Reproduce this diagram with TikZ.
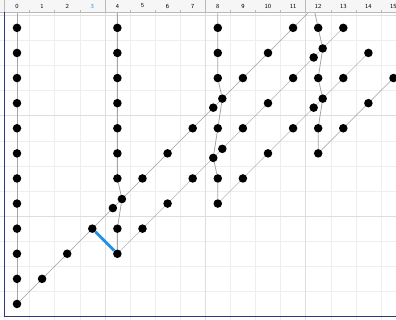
\documentclass[tikz,border=0pt]{standalone}
\usepackage{tikz}
\usetikzlibrary{positioning}
\pgfdeclarelayer{background}
\pgfsetlayers{background,main}
\definecolor{selblue}{RGB}{30,146,230}
\definecolor{framenavy}{RGB}{45,55,130}
\tikzset{
  event/.style={circle,fill=black,inner sep=0pt,minimum size=3.4mm},
  worldline/.style={draw=gray!70,line width=0.9pt},
  signal/.style={draw=gray!75,line width=0.5pt},
  minorgrid/.style={draw=gray!13,line width=0.5pt},
  majorgrid/.style={draw=gray!26,line width=0.5pt},
  rulerlabel/.style={font=\fontsize{7}{8}\selectfont\sffamily,inner sep=0pt}
}

\begin{document}
\begin{tikzpicture}
    \useasboundingbox (-0.677,-0.637) rectangle (15.1,12.11);
    % grid
    \begin{pgfonlayer}{background}
        \fill[white] (-0.677,-0.637) rectangle (15.1,12.11);
        \foreach \c in {0,...,15}
            \draw[minorgrid] (\c-0.5,-0.637) -- (\c-0.5,12.11);
        \foreach \r in {0,...,11}
            \draw[minorgrid] (-0.677,\r-0.5) -- (15.1,\r-0.5);
        \foreach \c in {3.5,7.5,11.5}
            \draw[majorgrid] (\c,-0.637) -- (\c,12.11);
        \foreach \r in {3.5,7.5,11.5}
            \draw[majorgrid] (-0.677,\r) -- (15.1,\r);
    \end{pgfonlayer}

    % events on the grid
    \foreach \c/\r in {0/0,0/1,0/2,0/3,0/4,0/5,0/6,0/7,0/8,0/9,0/10,0/11,
                       4/2,4/3,4/5,4/6,4/7,4/8,4/9,4/10,4/11,
                       8/4,8/5,8/7,8/9,8/10,8/11,
                       12/6,12/7,12/9,12/11,
                       1/1,2/2,3/3,5/5,6/6,7/7,9/9,10/10,11/11,
                       5/3,6/4,7/5,9/7,10/8,11/9,13/11,
                       9/5,10/6,11/7,13/9,14/10,
                       13/7,14/8,15/9}
        \node[event] (n\c-\r) at (\c,\r) {};
    % events split at crossings
    \foreach \c/\r in {4/4,8/8,8/6,12/10,12/8} {
        \node[event] (u\c-\r) at (\c+0.18,\r+0.18) {};
        \node[event] (l\c-\r) at (\c-0.18,\r-0.18) {};
    }
    \coordinate (t0) at (0,11.62);
    \coordinate (t4) at (4,11.62);
    \coordinate (t8) at (8,11.62);
    \coordinate (t12) at (11.82,11.82);
    \coordinate (d0top) at (11.9,11.9);

    \begin{pgfonlayer}{background}
        % world lines
        \draw[worldline] (t0) -- (n0-0);
        \draw[worldline] (t4) -- (n4-5) -- (u4-4) -- (n4-3) -- (n4-2);
        \draw[worldline] (t8) -- (n8-9) -- (u8-8) -- (n8-7) -- (l8-6) -- (n8-5) -- (n8-4);
        \draw[worldline] (t12) -- (n12-11) -- (u12-10) -- (n12-9) -- (u12-8) -- (n12-7) -- (n12-6);
        % signals
        \draw[signal] (n0-0) -- (l4-4) -- (u4-4) -- (l8-8) -- (u8-8) -- (d0top);
        \draw[signal] (n4-2) -- (l8-6) -- (u8-6) -- (l12-10) -- (u12-10) -- (n13-11);
        \draw[signal] (n8-4) -- (l12-8) -- (u12-8) -- (n14-10);
        \draw[signal] (n12-6) -- (n15-9);
    \end{pgfonlayer}
    \draw[selblue,line width=3.2pt] (n3-3) -- (n4-2);

    % ruler
    \fill[gray!7] (-0.677,11.62) rectangle (15.1,12.11);
    \draw[gray!55,line width=0.5pt] (-0.677,11.62) -- (15.1,11.62);
    \foreach \c in {0,...,14}
        \draw[gray!55,line width=0.4pt] (\c+0.5,11.62) -- (\c+0.5,11.70);
    \foreach \c in {-0.5,3.5,7.5,11.5}
        \draw[gray!55,line width=0.4pt] (\c,11.62) -- (\c,12.11);
    \foreach \c in {0,1,2,4,5,6,7,8,9,10,11,12,13,14,15}
        \node[rulerlabel] (r\c) at (\c,11.87) {\c};
    \node[rulerlabel,text=selblue] (r3) at (3,11.87) {3};

    % frame
    \draw[framenavy,line width=1.5pt] (-0.5,11.62) -- (-0.5,-0.5) -- (15.1,-0.5);
\end{tikzpicture}
\end{document}
